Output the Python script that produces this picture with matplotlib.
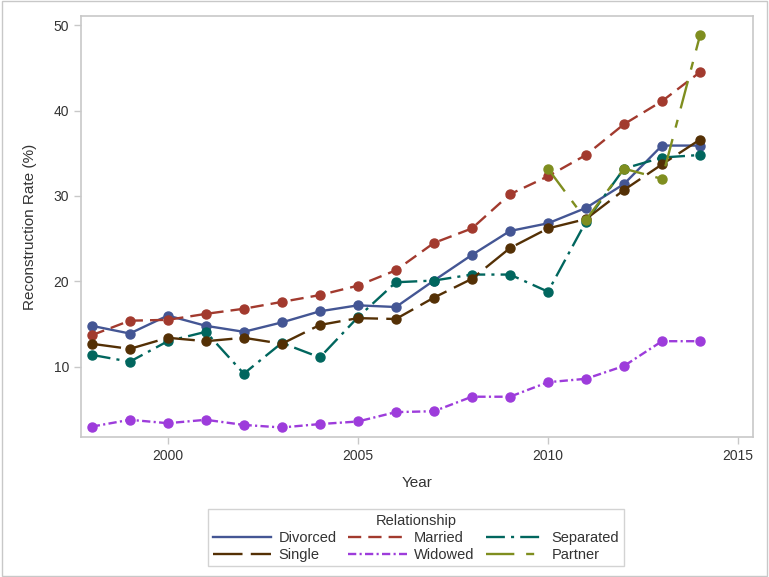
import matplotlib
matplotlib.use("Agg")
import matplotlib.pyplot as plt
from matplotlib.patches import Rectangle
from matplotlib.lines import Line2D

plt.rcParams['font.family'] = ['Liberation Sans', 'DejaVu Sans']

years = list(range(1998, 2015))
divorced = [14.8, 13.9, 16.0, 14.8, 14.1, 15.2, 16.5, 17.2, 17.0, 20.1, 23.1, 25.9, 26.8, 28.6, 31.4, 35.9, 35.9]
married = [13.7, 15.4, 15.5, 16.2, 16.8, 17.6, 18.4, 19.5, 21.3, 24.5, 26.2, 30.2, 32.3, 34.8, 38.4, 41.1, 44.5]
separated = [11.4, 10.6, 13.0, 14.1, 9.2, 12.8, 11.1, 15.8, 19.9, 20.1, 20.8, 20.8, 18.8, 27.0, 33.2, 34.5, 34.8]
single = [12.7, 12.1, 13.4, 13.0, 13.4, 12.7, 14.9, 15.7, 15.6, 18.1, 20.3, 23.9, 26.2, 27.3, 30.7, 33.7, 36.6]
widowed = [3.0, 3.8, 3.4, 3.8, 3.2, 2.9, 3.3, 3.6, 4.7, 4.8, 6.5, 6.5, 8.2, 8.6, 10.1, 13.0, 13.0]
partner_years = [2010, 2011, 2012, 2013, 2014]
partner = [33.2, 27.2, 33.2, 32.0, 48.8]

fig = plt.figure(figsize=(7.69, 5.77), dpi=100)
ax = fig.add_axes([0.105, 0.243, 0.874, 0.729])

lw = 1.7
ms = 6.5
series = [
    ("Divorced", years, divorced, "#445694", '-'),
    ("Married", years, married, "#A23A2E", (0, (5.6, 3.0))),
    ("Separated", years, separated, "#01665E", (0, (8.0, 2.6, 1.3, 2.6))),
    ("Single", years, single, "#543005", (0, (12.5, 3.5))),
    ("Widowed", years, widowed, "#9D3CDB", (0, (3.5, 1.4, 0.9, 1.4))),
    ("Partner", partner_years, partner, "#7F8E1F", (0, (12.0, 5.0, 3.4, 5.0))),
]
styles = {}
for name, x, y, c, ls in series:
    ax.plot(x, y, color=c, linestyle=ls, linewidth=lw, marker='o',
            markersize=ms, markeredgecolor=c, markerfacecolor=c, label=name)
    styles[name] = (c, ls)

ax.set_xlim(1997.71, 2015.39)
ax.set_ylim(1.81, 51.05)
ax.set_xticks([2000, 2005, 2010, 2015])
ax.set_yticks([10, 20, 30, 40, 50])
for s in ax.spines.values():
    s.set_color('#c8c8c8')
    s.set_linewidth(1.2)
ax.tick_params(axis='both', colors='#c8c8c8', labelcolor='#333333', labelsize=10, length=5, width=1)
ax.set_xlabel("Year", fontsize=11, color='#333333', labelpad=10)
ax.set_ylabel("Reconstruction Rate (%)", fontsize=11, color='#333333', labelpad=12)

order = ["Divorced", "Single", "Married", "Widowed", "Separated", "Partner"]
leg_handles = [Line2D([], [], color=styles[n][0], linestyle=styles[n][1], linewidth=lw) for n in order]
leg = fig.legend(leg_handles, order, title="Relationship", ncol=3, loc='center',
                 bbox_to_anchor=(0.541, 0.068), fontsize=10.5, title_fontsize=10.5,
                 frameon=True, fancybox=False, edgecolor='#c8c8c8', handlelength=4.0,
                 columnspacing=0.8, handletextpad=0.5, borderpad=0.3, labelspacing=0.2)
leg.get_frame().set_linewidth(1.0)
for t in leg.get_texts():
    t.set_color('#333333')
leg.get_title().set_color('#333333')

fig.patches.append(Rectangle((0.002, 0.002), 0.996, 0.996, transform=fig.transFigure,
                             fill=False, edgecolor='#c8c8c8', linewidth=1.0))

fig.savefig("out.png", dpi=100)
